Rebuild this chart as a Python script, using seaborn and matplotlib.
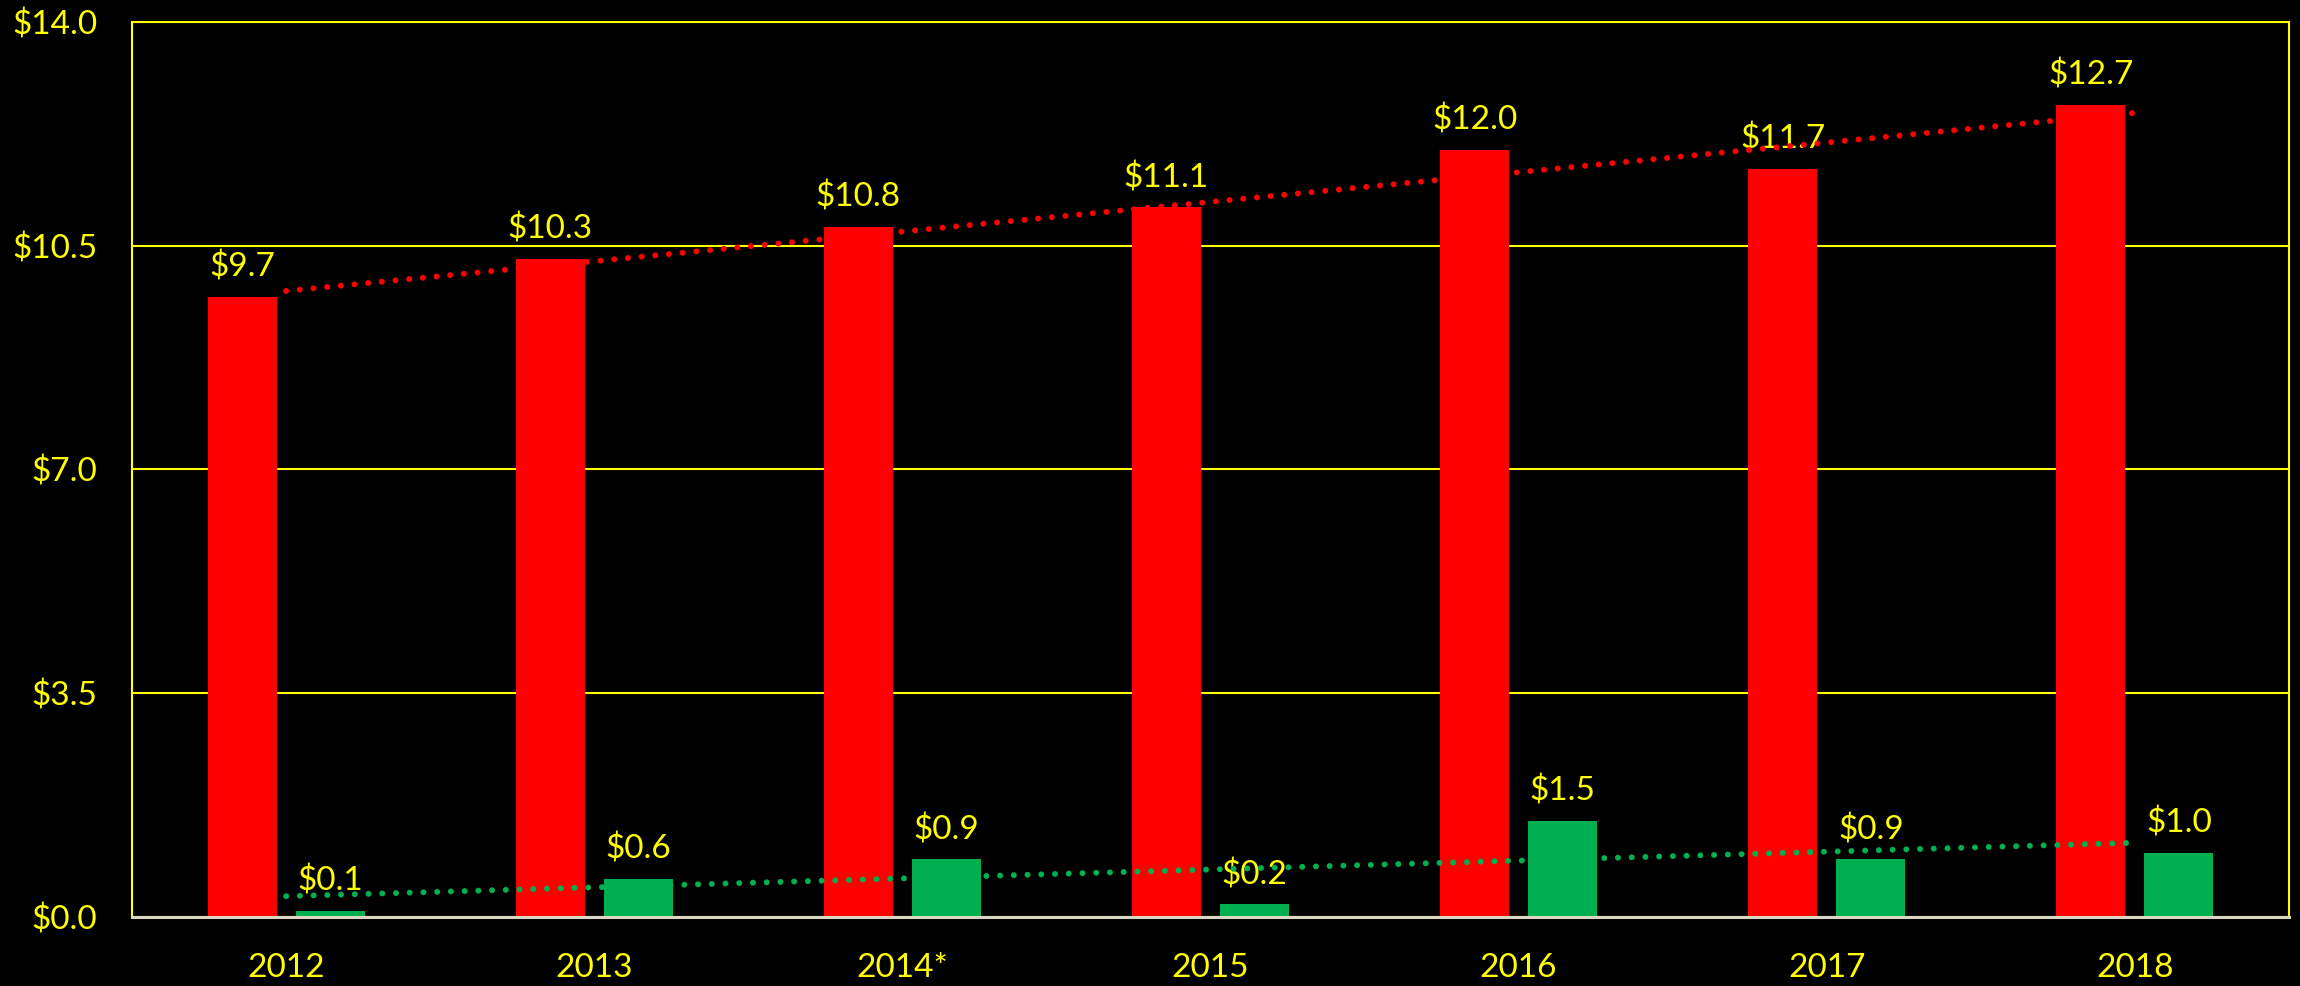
import numpy as np
import pandas as pd
import matplotlib
matplotlib.use("Agg")
import matplotlib.pyplot as plt
import seaborn as sns

# chart values
years = ["2012", "2013", "2014*", "2015", "2016", "2017", "2018"]
red_vals = [9.7, 10.3, 10.8, 11.1, 12.0, 11.7, 12.7]
green_vals = [0.1, 0.6, 0.9, 0.2, 1.5, 0.9, 1.0]
y_ticks = [0.0, 3.5, 7.0, 10.5, 14.0]

RED = "#FF0000"
GREEN = "#00B050"
YELLOW = "#FFFF00"

df = pd.DataFrame({
    "year": years * 2,
    "series": ["red"] * len(years) + ["green"] * len(years),
    "value": red_vals + green_vals,
})

sns.set_style("dark")
plt.rcParams["font.family"] = ["Lato", "DejaVu Sans"]

fig = plt.figure(figsize=(23, 9.86), dpi=100, facecolor="black")
ax = fig.add_axes([0.0574, 0.07, 0.9378, 0.9077])
ax.set_facecolor("black")

sns.barplot(data=df, x="year", y="value", hue="series", order=years,
            hue_order=["red", "green"], palette=[RED, GREEN],
            width=0.572, gap=0.217, saturation=1, legend=False,
            linewidth=0, edgecolor="none", ax=ax)

# value labels
for cont, vals in zip(ax.containers, [red_vals, green_vals]):
    for bar, v in zip(cont, vals):
        ax.annotate(f"${v:.1f}", (bar.get_x() + bar.get_width() / 2, bar.get_height()),
                    xytext=(0, 14.5), textcoords="offset points", ha="center",
                    va="baseline", color=YELLOW, fontsize=24, zorder=4)

# linear trend lines (dotted)
xpos = np.arange(len(years))
for vals, col in [(red_vals, RED), (green_vals, GREEN)]:
    sns.regplot(x=xpos, y=np.array(vals), scatter=False, ci=None, ax=ax,
                line_kws=dict(color=col, lw=4.3, linestyle=(0, (0.01, 2.29)),
                              dash_capstyle="round", zorder=6))

ax.set_xlim(-0.5, len(years) - 0.5)
ax.set_ylim(0, 14)
ax.set_yticks(y_ticks)
ax.set_yticklabels([f"${t:.1f}" for t in y_ticks])
ax.set_xticks(xpos)
ax.set_xticklabels(years)
ax.set_xlabel("")
ax.set_ylabel("")
ax.tick_params(axis="y", colors=YELLOW, labelsize=24, length=0, pad=25)
ax.tick_params(axis="x", colors=YELLOW, labelsize=24, length=0, pad=26)

ax.grid(False)
ax.yaxis.grid(True, color=YELLOW, lw=1.5)
ax.set_axisbelow(True)
for s in ["left", "top", "right"]:
    ax.spines[s].set_visible(True)
    ax.spines[s].set_color(YELLOW)
    ax.spines[s].set_linewidth(1.5)
ax.spines["bottom"].set_visible(True)
ax.spines["bottom"].set_color("#D9D6C3")
ax.spines["bottom"].set_linewidth(2.2)
ax.spines["bottom"].set_zorder(5)

fig.savefig("out.png", dpi=100, facecolor="black")
